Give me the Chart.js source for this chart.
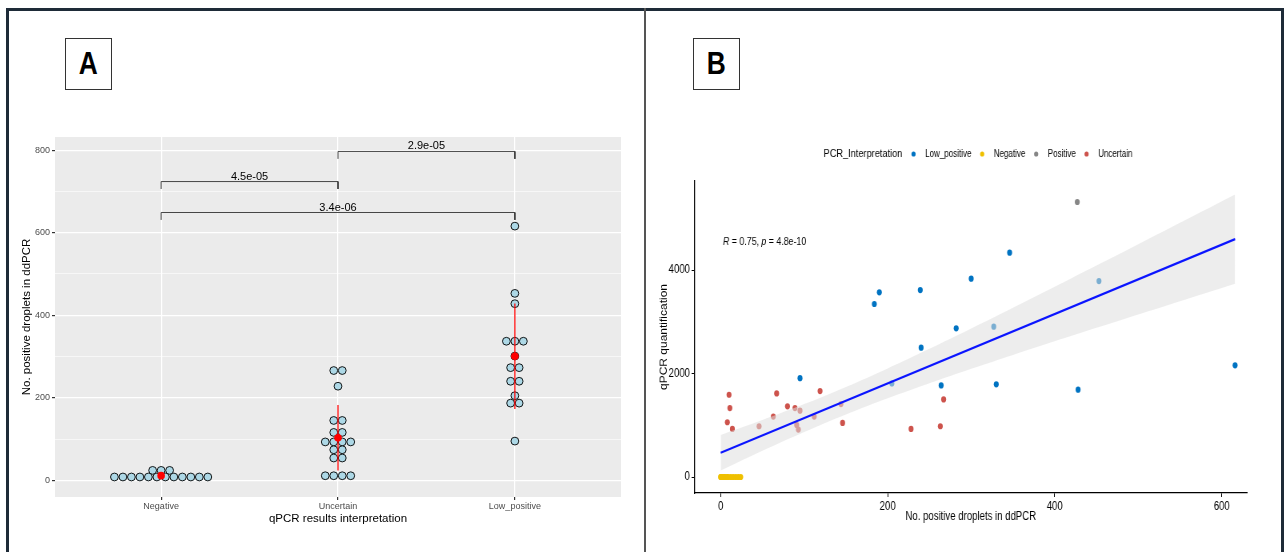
<!DOCTYPE html>
<html>
<head>
<meta charset="utf-8">
<script src="https://cdn.jsdelivr.net/npm/chart.js@4.4.1/dist/chart.umd.min.js"></script>
<style>
  body { margin: 0; width: 1285px; height: 552px; background: #fff; position: relative; overflow: hidden; }
  #frame { position: absolute; left: 6px; top: 8px; width: 1278px; height: 600px; box-sizing: border-box; border: 3px solid #1e2b38; }
  #divider { position: absolute; left: 644px; top: 8px; width: 2px; height: 560px; background: #555; }
  .tag { position: absolute; top: 38px; width: 47px; height: 52px; box-sizing: border-box; border: 1px solid #333;
         display: flex; align-items: center; justify-content: center;
         font: bold 31px 'Liberation Sans', Arial, sans-serif; color: #000; }
  .tag span { display: inline-block; transform: scaleX(0.85); }
  #chartA { position: absolute; left: 0; top: 100px; }
  #wrapB { position: absolute; left: 646px; top: 100px; transform: scaleX(0.8); transform-origin: 0 0; }
</style>
</head>
<body>
<div id="frame"></div>
<canvas id="chartA" width="645" height="452"></canvas>
<div id="wrapB"><canvas id="chartB" width="799" height="452"></canvas></div>
<div id="divider"></div>
<div class="tag" style="left:65px"><span>A</span></div>
<div class="tag" style="left:693px"><span>B</span></div>

<script>
// ---------- Panel A: dot plot, values at the dot bins ----------
const catsA = ['Negative', 'Uncertain', 'Low_positive'];
const dotsNegative = [8, 8, 8, 8, 8, 8, 8, 8, 8, 8, 8, 8, 24, 24, 24];
const dotsUncertain = [266, 266, 228, 145, 145, 116, 116, 93, 93, 93, 93, 74, 74, 54, 54, 11, 11, 11, 11];
const dotsLowPositive = [616, 453, 428, 337, 337, 337, 301, 273, 273, 240, 240, 205, 187, 187, 95];
const yTicksA = [0, 200, 400, 600, 800];
const yMinorA = [100, 300, 500, 700];

// significance brackets
const bracketFrom = [2, 1, 1];
const bracketTo = [3, 2, 3];
const bracketY = [797, 724, 649];
const bracketDrop = 18;
const pLabels = ['2.9e-05', '4.5e-05', '3.4e-06'];

// ---------- Panel B: scatter ----------
const groupsB = ['Low_positive', 'Negative', 'Positive', 'Uncertain'];
const groupColors = ['#0073C2', '#EFC000', '#868686', '#CD534C'];

const lowPosX = [190, 184, 239, 282, 300, 346, 453, 327, 330, 428, 616, 95, 205, 240, 264];
const lowPosY = [3569, 3343, 3613, 2873, 3832, 4335, 3787, 2905, 1791, 1688, 2158, 1910, 1808, 2500, 1769];
const negX = [0, 0, 1, 2, 3, 4, 5, 6, 8, 9, 12, 15, 18, 21, 24];
const negY = [0, 0, 0, 0, 0, 0, 0, 0, 0, 0, 0, 0, 0, 0, 0];
const posX = [427];
const posY = [5314];
const uncX = [10, 11, 8, 14, 67, 80, 89, 119, 146, 228, 263, 267, 46, 63, 95, 91, 93, 112, 144];
const uncY = [1590, 1333, 1058, 929, 1615, 1365, 1333, 1660, 1045, 929, 981, 1500, 981, 1167, 1282, 1006, 917, 1167, 1410];

// fitted line and its confidence band
const fitX = [0, 616];
const fitY = [470, 4597];
const bandX = [0, 50, 100, 150, 200, 250, 300, 350, 400, 450, 500, 550, 616];
const bandUpper = [813, 1102, 1409, 1741, 2099, 2478, 2870, 3271, 3677, 4087, 4499, 4912, 5458];
const bandLower = [127, 508, 871, 1209, 1521, 1812, 2090, 2359, 2623, 2883, 3141, 3398, 3736];
const xTicksB = [0, 200, 400, 600];
const yTicksB = [0, 2000, 4000];

Chart.defaults.font.family = "'Liberation Sans', Arial, sans-serif";
Chart.defaults.animation = false;

const DOT_STEP = 0.048;

// spread equal values side by side, centred on the category
function stackDots(values, cat) {
    const counts = {}, seen = {};
    values.forEach(v => { counts[v] = (counts[v] || 0) + 1; });
    return values.map(v => {
        seen[v] = (seen[v] === undefined) ? 0 : seen[v] + 1;
        return { x: cat + (seen[v] - (counts[v] - 1) / 2) * DOT_STEP, y: v };
    });
}

function meanSd(values) {
    const m = values.reduce((a, b) => a + b, 0) / values.length;
    const v = values.reduce((a, b) => a + (b - m) * (b - m), 0) / (values.length - 1);
    return [m, Math.sqrt(v)];
}

const groupsA = [dotsNegative, dotsUncertain, dotsLowPositive];
const statsA = groupsA.map(meanSd);

const dotData = [];
groupsA.forEach((g, i) => dotData.push(...stackDots(g, i + 1)));

const datasetsA = [];
bracketY.forEach((y, i) => {
    datasetsA.push({
        type: 'line', order: 0,
        data: [
            { x: bracketFrom[i], y: y - bracketDrop }, { x: bracketFrom[i], y: y },
            { x: bracketTo[i], y: y }, { x: bracketTo[i], y: y - bracketDrop }
        ],
        borderColor: '#333', borderWidth: 0.9, pointRadius: 0, tension: 0
    });
});
statsA.forEach(([m, s], i) => {
    datasetsA.push({
        type: 'line', order: 2,
        data: [{ x: i + 1, y: m - s }, { x: i + 1, y: m + s }],
        borderColor: '#FF0000', borderWidth: 1.2, pointRadius: 0
    });
});
datasetsA.push({
    type: 'scatter', order: 1,
    data: statsA.map(([m], i) => ({ x: i + 1, y: m })),
    backgroundColor: '#FF0000', borderColor: '#FF0000', pointRadius: 3.8, borderWidth: 0
});
datasetsA.push({
    type: 'scatter', order: 3,
    data: dotData,
    backgroundColor: '#ADD8E6', borderColor: '#000', borderWidth: 0.9, pointRadius: 3.9
});

const panelBg = {
    id: 'panelBg',
    beforeDraw(chart) {
        const { ctx, chartArea: a } = chart;
        ctx.save();
        ctx.fillStyle = '#EBEBEB';
        ctx.fillRect(a.left, a.top, a.right - a.left, a.bottom - a.top);
        ctx.restore();
    }
};

const pValueText = {
    id: 'pValueText',
    afterDatasetsDraw(chart) {
        const { ctx, scales: { x, y } } = chart;
        ctx.save();
        ctx.font = "11px 'Liberation Sans', Arial, sans-serif";
        ctx.fillStyle = '#000';
        ctx.textAlign = 'center';
        ctx.textBaseline = 'alphabetic';
        pLabels.forEach((t, i) => {
            const cx = (x.getPixelForValue(bracketFrom[i]) + x.getPixelForValue(bracketTo[i])) / 2;
            ctx.fillText(t, cx, y.getPixelForValue(bracketY[i]) - 2);
        });
        ctx.restore();
    }
};

new Chart(document.getElementById('chartA'), {
    type: 'scatter',
    data: { datasets: datasetsA },
    options: {
        responsive: false,
        devicePixelRatio: 1,
        layout: { padding: { left: 16, right: 24, top: 37, bottom: 22 } },
        plugins: { legend: { display: false }, tooltip: { enabled: false } },
        scales: {
            x: {
                type: 'linear', min: 0.4, max: 3.6,
                afterBuildTicks: s => { s.ticks = catsA.map((c, i) => ({ value: i + 1 })); },
                afterFit: s => { s.height = 33; },
                ticks: { autoSkip: false, maxRotation: 0, padding: 1, color: '#4D4D4D', font: { size: 9 },
                         callback: v => catsA[v - 1] },
                grid: { color: '#FFFFFF', lineWidth: 1.2, tickLength: 3, tickColor: '#333333' },
                border: { display: false },
                title: { display: true, text: 'qPCR results interpretation', color: '#000', font: { size: 11.5 } }
            },
            y: {
                min: -40.5, max: 832,
                afterBuildTicks: s => {
                    s.ticks = yTicksA.concat(yMinorA).sort((a, b) => a - b).map(v => ({ value: v }));
                },
                afterFit: s => { s.width = 39; },
                ticks: { padding: 2, color: '#4D4D4D', font: { size: 9 },
                         callback: v => yTicksA.includes(v) ? String(v) : '' },
                grid: {
                    color: '#FFFFFF',
                    lineWidth: c => (c.tick && yTicksA.includes(c.tick.value)) ? 1.2 : 0.6,
                    tickLength: 3,
                    tickColor: c => (c.tick && yTicksA.includes(c.tick.value)) ? '#333333' : 'rgba(0,0,0,0)'
                },
                border: { display: false },
                title: { display: true, text: 'No. positive droplets in ddPCR', color: '#000', font: { size: 11.5 } }
            }
        }
    },
    plugins: [panelBg, pValueText]
});

// ---------- Panel B ----------
const pointsB = [[lowPosX, lowPosY], [negX, negY], [posX, posY], [uncX, uncY]];

const datasetsB = [
    {
        type: 'line', order: 0,
        data: fitX.map((x, i) => ({ x, y: fitY[i] })),
        borderColor: '#0A14FF', borderWidth: 2.2, pointRadius: 0
    },
    {
        type: 'line', order: 1,
        data: bandX.map((x, i) => ({ x, y: bandUpper[i] })),
        borderWidth: 0, pointRadius: 0, tension: 0.3,
        fill: 2, backgroundColor: 'rgba(222,222,222,0.55)'
    },
    {
        type: 'line', order: 1,
        data: bandX.map((x, i) => ({ x, y: bandLower[i] })),
        borderWidth: 0, pointRadius: 0, tension: 0.3, fill: false
    }
];
pointsB.forEach(([xs, ys], g) => {
    datasetsB.push({
        type: 'scatter', order: 2,
        label: groupsB[g],
        data: xs.map((x, i) => ({ x, y: ys[i] })),
        backgroundColor: groupColors[g], borderWidth: 0, pointRadius: 3.1
    });
});

const legendB = {
    id: 'legendB',
    afterDraw(chart) {
        const ctx = chart.ctx;
        const y = 54;
        let x = 222;
        ctx.save();
        ctx.textBaseline = 'middle';
        ctx.fillStyle = '#000';
        ctx.font = "11.5px 'Liberation Sans', Arial, sans-serif";
        ctx.fillText('PCR_Interpretation', x, y);
        x += ctx.measureText('PCR_Interpretation').width + 14;
        ctx.font = "10px 'Liberation Sans', Arial, sans-serif";
        groupsB.forEach((g, i) => {
            ctx.fillStyle = groupColors[i];
            ctx.beginPath();
            ctx.arc(x, y, 2.6, 0, Math.PI * 2);
            ctx.fill();
            x += 14.5;
            ctx.fillStyle = '#000';
            ctx.fillText(g, x, y);
            x += ctx.measureText(g).width + 13.5;
        });
        ctx.restore();
    }
};

const corLabel = {
    id: 'corLabel',
    afterDatasetsDraw(chart) {
        const { ctx, scales: { x, y } } = chart;
        const parts = [['R', true], [' = 0.75, ', false], ['p', true], [' = 4.8e-10', false]];
        let px = x.getPixelForValue(0) + 3;
        const py = y.getPixelForValue(4540);
        ctx.save();
        ctx.fillStyle = '#000';
        ctx.textBaseline = 'middle';
        parts.forEach(([t, it]) => {
            ctx.font = (it ? 'italic ' : '') + "11px 'Liberation Sans', Arial, sans-serif";
            ctx.fillText(t, px, py);
            px += ctx.measureText(t).width;
        });
        ctx.restore();
    }
};

new Chart(document.getElementById('chartB'), {
    type: 'scatter',
    data: { datasets: datasetsB },
    options: {
        responsive: false,
        devicePixelRatio: 1,
        layout: { padding: { left: 11, right: 48, top: 81, bottom: 24 } },
        plugins: { legend: { display: false }, tooltip: { enabled: false } },
        scales: {
            x: {
                type: 'linear', min: -31, max: 630,
                afterBuildTicks: s => { s.ticks = xTicksB.map(v => ({ value: v })); },
                afterFit: s => { s.height = 35; },
                ticks: { autoSkip: false, maxRotation: 0, padding: 2, color: '#000', font: { size: 12 },
                         callback: v => String(v) },
                grid: { drawOnChartArea: false, drawTicks: true, tickLength: 4, tickColor: '#000', lineWidth: 1 },
                border: { display: true, color: '#000', width: 1.3 },
                title: { display: true, text: 'No. positive droplets in ddPCR', color: '#000', font: { size: 12 } }
            },
            y: {
                min: -309, max: 5720,
                afterBuildTicks: s => { s.ticks = yTicksB.map(v => ({ value: v })); },
                afterFit: s => { s.width = 50; },
                ticks: { padding: 2, color: '#000', font: { size: 12 }, callback: v => String(v) },
                grid: { drawOnChartArea: false, drawTicks: true, tickLength: 4, tickColor: '#000', lineWidth: 1 },
                border: { display: true, color: '#000', width: 1.3 },
                title: { display: true, text: 'qPCR quantification', color: '#000', font: { size: 12 } }
            }
        }
    },
    plugins: [legendB, corLabel]
});
</script>
</body>
</html>
